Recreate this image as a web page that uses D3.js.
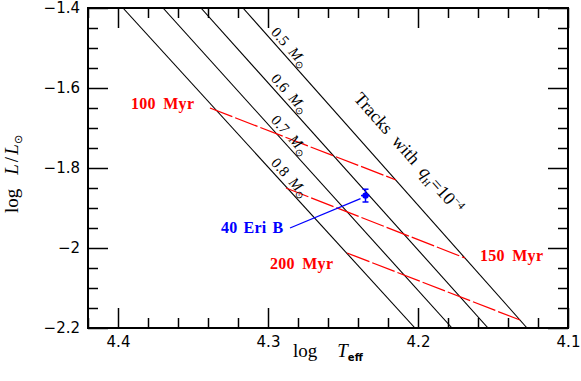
<!DOCTYPE html>
<html>
<head>
<meta charset="utf-8">
<script src="https://cdn.jsdelivr.net/npm/d3@7"></script>
<style>
  body { margin: 0; background: #fff; }
  svg { display: block; }
  text { white-space: pre; }
</style>
</head>
<body>
<div id="chart"></div>
<script>
// ---- data ----
var trackMasses = ["0.8", "0.7", "0.6", "0.5"];
// each track: [logTeff, logL] end points
var tracks = [
    [[4.3967, -1.4], [4.2020, -2.2]],
    [[4.3700, -1.4], [4.1773, -2.2]],
    [[4.3447, -1.4], [4.1533, -2.2]],
    [[4.3167, -1.4], [4.1273, -2.2]]
];
var isoAges = ["100 Myr", "150 Myr", "200 Myr"];
var isochrones = [
    [[4.3387, -1.650], [4.2147, -1.830]],
    [[4.2880, -1.850], [4.1687, -2.025]],
    [[4.2473, -2.0125], [4.1320, -2.180]]
];
var starName = "40 Eri B";
var starT = 4.235, starL = -1.869;
var starErrT = 0.003, starErrL = 0.016;

var xMajor = [4.4, 4.3, 4.2, 4.1];
var xMinor = [4.42, 4.38, 4.36, 4.34, 4.32, 4.28, 4.26, 4.24, 4.22, 4.18, 4.16, 4.14, 4.12];
var yMajor = [-1.4, -1.6, -1.8, -2, -2.2];
var yMinor = [-1.45, -1.5, -1.55, -1.65, -1.7, -1.75, -1.85, -1.9, -1.95, -2.05, -2.1, -2.15];

// ---- layout ----
var margin = {top: 8, right: 13, bottom: 53, left: 88};
var width = 581 - margin.left - margin.right;
var height = 381 - margin.top - margin.bottom;

var svg = d3.select("#chart").append("svg")
    .attr("width", 581)
    .attr("height", 381)
    .append("g")
    .attr("transform", "translate(" + margin.left + "," + margin.top + ")");

var x = d3.scaleLinear().domain([4.42, 4.1]).range([0, width]);
var y = d3.scaleLinear().domain([-1.4, -2.2]).range([0, height]);

var fmt = d3.format("");

// clip for the lines
svg.append("clipPath").attr("id", "clip")
    .append("rect").attr("width", width).attr("height", height);

// axes: major ticks 20px, minor 10px, all pointing inward
function drawAxis(axisFn, scale, ticks, size, labels, transform) {
    var ax = axisFn(scale).tickValues(ticks).tickSize(-size).tickSizeOuter(0);
    if (labels) ax.tickPadding(8).tickFormat(fmt);
    else ax.tickFormat("");
    var g = svg.append("g").attr("transform", transform).call(ax);
    g.select(".domain").remove();
    g.selectAll("line").attr("stroke", "#000").attr("stroke-width", 1.5);
    g.selectAll("text")
        .attr("font-family", "DejaVu Sans")
        .attr("font-size", 15)
        .attr("fill", "#000");
    return g;
}
drawAxis(d3.axisBottom, x, xMajor, 20, true, "translate(0," + height + ")");
drawAxis(d3.axisBottom, x, xMinor, 10, false, "translate(0," + height + ")");
drawAxis(d3.axisTop, x, xMajor, 20, false, "translate(0,0)");
drawAxis(d3.axisTop, x, xMinor, 10, false, "translate(0,0)");
drawAxis(d3.axisLeft, y, yMajor, 20, true, "translate(0,0)");
drawAxis(d3.axisLeft, y, yMinor, 10, false, "translate(0,0)");
drawAxis(d3.axisRight, y, yMajor, 20, false, "translate(" + width + ",0)");
drawAxis(d3.axisRight, y, yMinor, 10, false, "translate(" + width + ",0)");

var line = d3.line()
    .x(function(d) { return x(d[0]); })
    .y(function(d) { return y(d[1]); });

var plot = svg.append("g").attr("clip-path", "url(#clip)");

// evolutionary tracks
plot.selectAll(".track")
    .data(tracks)
    .enter().append("path")
    .attr("class", "track")
    .attr("d", line)
    .attr("fill", "none")
    .attr("stroke", "#000")
    .attr("stroke-width", 1.1);

// isochrones
plot.selectAll(".iso")
    .data(isochrones)
    .enter().append("path")
    .attr("class", "iso")
    .attr("d", line)
    .attr("fill", "none")
    .attr("stroke", "#ff0000")
    .attr("stroke-width", 1.3)
    .attr("stroke-dasharray", "24,3");

// mass labels along each track
var labelX = 172; // px from left frame where labels start
tracks.forEach(function(tr, i) {
    var p0 = [x(tr[0][0]), y(tr[0][1])], p1 = [x(tr[1][0]), y(tr[1][1])];
    var ang = Math.atan2(p1[1] - p0[1], p1[0] - p0[0]);
    var t = (labelX - p0[0]) / (p1[0] - p0[0]);
    var px = p0[0] + t * (p1[0] - p0[0]);
    var py = p0[1] + t * (p1[1] - p0[1]);
    var txt = svg.append("text")
        .attr("transform", "translate(" + px + "," + py + ") rotate(" + (ang * 180 / Math.PI) + ")")
        .attr("x", 11)
        .attr("y", -4)
        .attr("font-family", "Liberation Serif")
        .attr("font-size", 15)
        .attr("fill", "#000");
    txt.append("tspan").text(trackMasses[i] + "  ");
    txt.append("tspan").attr("font-style", "italic").text("M");
    txt.append("tspan").attr("font-size", 10).attr("dy", 3).text("\u2299");
});

// "Tracks with qH=10^-4"
(function() {
    var tr = tracks[3];
    var p0 = [x(tr[0][0]), y(tr[0][1])], p1 = [x(tr[1][0]), y(tr[1][1])];
    var ang = Math.atan2(p1[1] - p0[1], p1[0] - p0[0]) * 180 / Math.PI;
    var txt = svg.append("text")
        .attr("transform", "translate(" + (265) + "," + (91) + ") rotate(" + ang + ")")
        .attr("font-family", "Liberation Serif")
        .attr("font-size", 18)
        .attr("fill", "#000");
    txt.append("tspan").text("Tracks  with  ");
    txt.append("tspan").attr("font-style", "italic").text("q");
    txt.append("tspan").attr("font-size", 10).attr("dy", 4).text("H");
    txt.append("tspan").attr("dy", -4).text("=10");
    txt.append("tspan").attr("font-size", 11).attr("dy", -7).text("\u22124");
})();

// isochrone labels
var isoLabelPos = [[43, 101], [392, 253], [182, 261]];
svg.selectAll(".isolab")
    .data(isoAges)
    .enter().append("text")
    .attr("class", "isolab")
    .attr("x", function(d, i) { return isoLabelPos[i][0]; })
    .attr("y", function(d, i) { return isoLabelPos[i][1]; })
    .attr("font-family", "Liberation Serif")
    .attr("font-weight", "bold")
    .attr("font-size", 16)
    .attr("letter-spacing", 0.3)
    .attr("word-spacing", 3)
    .attr("fill", "#ff0000")
    .text(function(d) { return d; });

// 40 Eri B point with error bars
var sx = x(starT), sy = y(starL);
var star = svg.append("g").attr("stroke", "#0000ff").attr("stroke-width", 1.5);
star.append("line")
    .attr("x1", sx).attr("x2", sx)
    .attr("y1", y(starL + starErrL)).attr("y2", y(starL - starErrL));
star.append("line")
    .attr("x1", x(starT + starErrT)).attr("x2", x(starT - starErrT))
    .attr("y1", sy).attr("y2", sy);
[starL + starErrL, starL - starErrL].forEach(function(v) {
    star.append("line")
        .attr("x1", sx - 3).attr("x2", sx + 3)
        .attr("y1", y(v)).attr("y2", y(v));
});
star.append("circle")
    .attr("cx", sx).attr("cy", sy).attr("r", 3.2)
    .attr("fill", "#0000ff").attr("stroke", "none");

// pointer and name
svg.append("line")
    .attr("x1", 202).attr("y1", 220)
    .attr("x2", sx - 5).attr("y2", sy + 3)
    .attr("stroke", "#0000ff")
    .attr("stroke-width", 1.3);
svg.append("text")
    .attr("x", 133).attr("y", 225)
    .attr("font-family", "Liberation Serif")
    .attr("font-weight", "bold")
    .attr("font-size", 16)
    .attr("letter-spacing", 0.2)
    .attr("word-spacing", 2)
    .attr("fill", "#0000ff")
    .text(starName);

// frame
svg.append("rect")
    .attr("width", width).attr("height", height)
    .attr("fill", "none")
    .attr("stroke", "#000")
    .attr("stroke-width", 2);

// axis titles
var xt = svg.append("text")
    .attr("x", 205).attr("y", height + 29)
    .attr("font-family", "Liberation Serif")
    .attr("font-size", 19)
    .attr("fill", "#000");
xt.append("tspan").text("log");
xt.append("tspan").attr("dx", 20).attr("font-style", "italic").text("T");
xt.append("tspan").attr("font-family", "DejaVu Sans").attr("font-weight", "bold")
    .attr("font-size", 10).attr("dy", 4).text("eff");

var yt = svg.append("text")
    .attr("transform", "translate(" + (-70) + "," + (205) + ") rotate(-90)")
    .attr("font-family", "Liberation Serif")
    .attr("font-size", 19)
    .attr("fill", "#000");
yt.append("tspan").text("log");
yt.append("tspan").attr("dx", 14).attr("font-style", "italic").text("L");
yt.append("tspan").attr("dx", 2).text("/");
yt.append("tspan").attr("dx", 2).attr("font-style", "italic").text("L");
yt.append("tspan").attr("font-size", 11).attr("dy", 4).text("\u2299");
</script>
</body>
</html>
